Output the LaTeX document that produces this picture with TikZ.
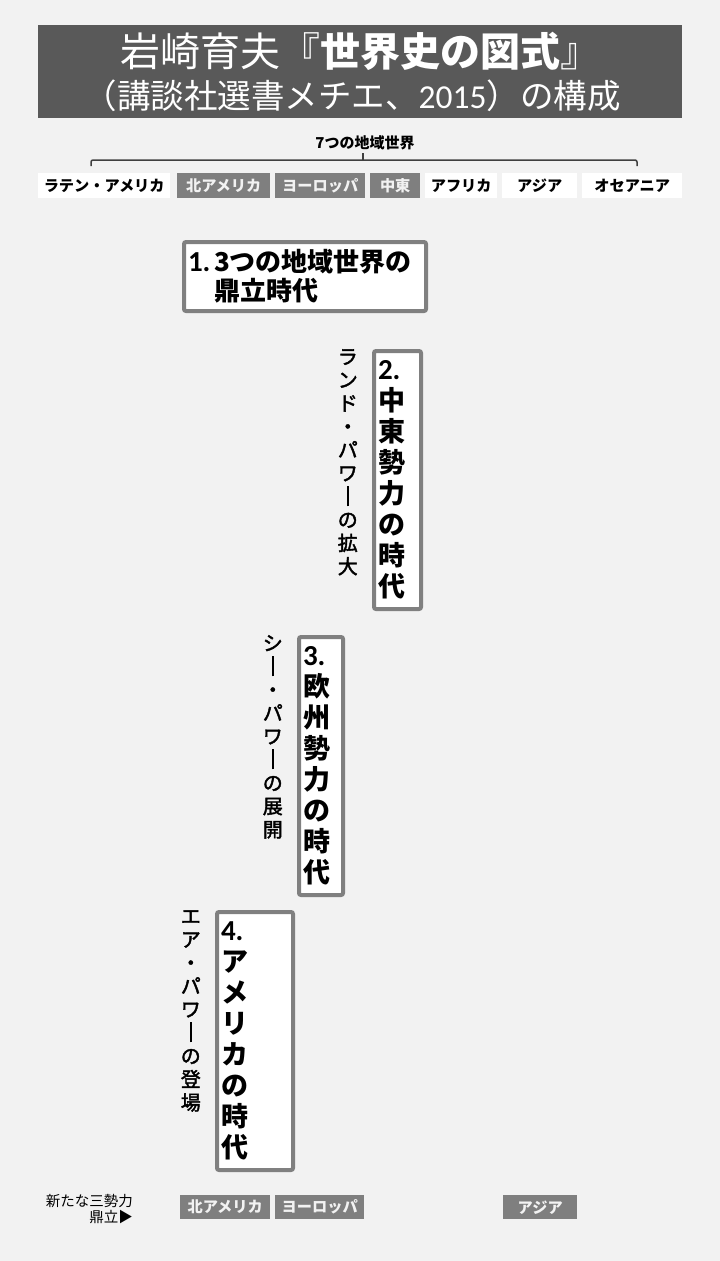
\documentclass[tikz,border=0pt]{standalone}
\usepackage{fontspec}
\usepackage{graphicx}
\setmainfont{Noto Sans CJK JP}
\newfontfamily\calib{Carlito}
\newfontfamily\jpmed[FakeBold=2]{Noto Sans CJK JP}
\usetikzlibrary{positioning}
\definecolor{bg}{HTML}{F2F2F2}
\definecolor{titlegray}{HTML}{595959}
\definecolor{boxgray}{HTML}{7F7F7F}
\definecolor{framegray}{HTML}{808080}
\definecolor{bracegray}{HTML}{404040}
\newcommand{\chouon}{\makebox[1em]{\rule[-0.12em]{0.08em}{1em}}}
\tikzset{region/.style={fill=white, anchor=north west, inner sep=0pt, minimum height=25pt,
                        font=\bfseries\fontsize{15.2}{17}\selectfont},
         power/.style={region, fill=boxgray, text=bg},
         era/.style={draw=framegray, line width=4pt, rounded corners=2pt, fill=white, anchor=north west,
                     inner xsep=4pt, inner ysep=0pt, align=left, font=\bfseries\fontsize{27}{31}\selectfont},
         sidenote/.style={anchor=north east, inner sep=0pt, xshift=-14pt, align=center,
                          font=\jpmed\fontsize{20}{23.3}\selectfont},
         brace/.style={draw=bracegray, line width=1.5pt, rounded corners=2pt},
        }

\begin{document}
\begin{tikzpicture}[x=1pt, y=-1pt]
        \useasboundingbox (0,0) rectangle (720,1261);
        \fill[bg] (0,0) rectangle (720,1261);

        % title
        \node[fill=titlegray, text=white, anchor=north west, minimum width=644pt, minimum height=93pt,
              inner sep=0pt, align=center, font=\fontsize{33.5}{42}\selectfont](title)at(38,25)
             {{\fontsize{40}{42}\selectfont 岩崎育夫『\textbf{世界史の図式}』}\\（講談社選書メチエ、{\calib 2015}）の構成\hspace*{16pt}};

        % the seven regions
        \node[font=\bfseries\fontsize{15}{17}\selectfont, inner sep=0pt](seven)at(365,143){7つの地域世界};
        \coordinate (braceL) at (91,166);
        \coordinate (braceR) at (637,166);
        \coordinate (braceC) at (363,160);
        \draw[brace] (braceL) |- (braceC) -| (braceR);
        \draw[brace] (braceC) -- ++(0,-7);

        \node[region, minimum width=132pt](lat)at(38,173){ラテン・アメリカ};
        \node[power, minimum width=93pt](nam)at(177,173){北アメリカ};
        \node[power, minimum width=90pt](eur)at(275,173){ヨーロッパ};
        \node[power, minimum width=50pt](mid)at(370,173){中東};
        \node[region, minimum width=72pt](afr)at(425,173){アフリカ};
        \node[region, minimum width=75pt](asia)at(502,173){アジア};
        \node[region, minimum width=100pt](oce)at(582,173){オセアニア};

        % the four eras
        \node[era, text width=234pt, minimum height=69pt, font=\bfseries\fontsize{26}{29}\selectfont](era1)at(182,240)
             {\makebox[26pt][l]{\calib\fontsize{29}{29}\selectfont 1.}3つの地域世界の\\\hspace*{26pt}鼎立時代};
        \node[era, text width=39pt, minimum height=258pt,
              label={[sidenote]north west:ラ\\ン\\ド\\・\\パ\\ワ\\\chouon\\の\\拡\\大}](era2)at(372,349)
             {{\calib\fontsize{29}{31}\selectfont 2.}\\中\\東\\勢\\力\\の\\時\\代};
        \node[era, text width=36pt, minimum height=258pt,
              label={[sidenote]north west:シ\\\chouon\\・\\パ\\ワ\\\chouon\\の\\展\\開}](era3)at(297,635)
             {{\calib\fontsize{29}{31}\selectfont 3.}\\欧\\州\\勢\\力\\の\\時\\代};
        \node[era, text width=68pt, minimum height=258pt,
              label={[sidenote]north west:エ\\ア\\・\\パ\\ワ\\\chouon\\の\\登\\場}](era4)at(215,910)
             {{\calib\fontsize{29}{31}\selectfont 4.}\\ア\\メ\\リ\\カ\\の\\時\\代};

        % the new three powers
        \node[anchor=north east, inner sep=0pt, align=right, font=\fontsize{14.5}{16}\selectfont](three)at(133,1194)
             {新たな三勢力\\鼎立▶};
        \node[power, minimum width=90pt, minimum height=24pt](nam2)at(180,1195){北アメリカ};
        \node[power, minimum width=89pt, minimum height=24pt](eur2)at(275,1195){ヨーロッパ};
        \node[power, minimum width=74pt, minimum height=24pt](asia2)at(503,1195){アジア};
    \end{tikzpicture}
\end{document}
